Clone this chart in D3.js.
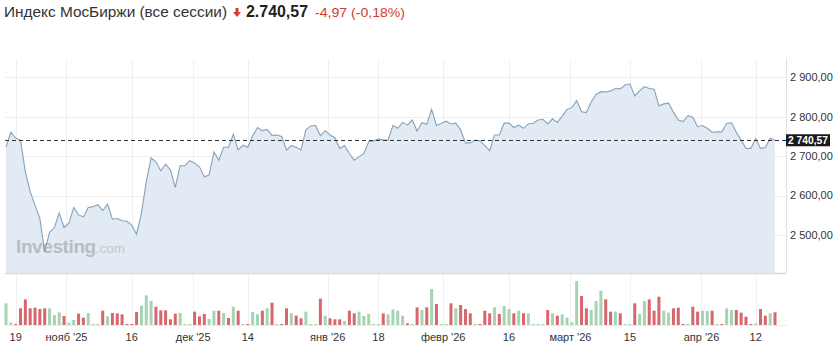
<!DOCTYPE html>
<html>
<head>
<meta charset="utf-8">
<script src="https://cdn.jsdelivr.net/npm/d3@7"></script>
<style>
	body { margin: 0; background: #fff; }
	svg { display: block; font-family: "Liberation Sans", Arial, sans-serif; }
</style>
</head>
<body>
<svg id="chart" width="836" height="344"></svg>
<script>
// closing prices, one per session (weekend sessions included)
var prices = [
	2723, 2761, 2746, 2741, 2661, 2610, 2576, 2542, 2457, 2507,
	2519, 2556, 2519, 2530, 2570, 2551, 2546, 2570, 2572, 2577,
	2562, 2578, 2540, 2542, 2536, 2535, 2525, 2502, 2555, 2635,
	2696, 2686, 2663, 2680, 2665, 2621, 2676, 2676, 2689, 2682,
	2673, 2648, 2652, 2711, 2690, 2723, 2723, 2756, 2716, 2728,
	2723, 2752, 2773, 2765, 2768, 2753, 2754, 2750, 2716, 2727,
	2723, 2716, 2767, 2777, 2778, 2752, 2765, 2754, 2747, 2720,
	2727, 2707, 2690, 2699, 2707, 2737, 2739, 2744, 2741, 2741,
	2778, 2771, 2786, 2779, 2792, 2764, 2785, 2781, 2819, 2778,
	2784, 2789, 2782, 2784, 2767, 2734, 2734, 2741, 2739, 2727,
	2714, 2754, 2754, 2784, 2784, 2773, 2779, 2771, 2782, 2784,
	2792, 2794, 2782, 2795, 2786, 2802, 2819, 2824, 2841, 2813,
	2811, 2838, 2857, 2864, 2863, 2866, 2872, 2871, 2881, 2884,
	2853, 2866, 2877, 2872, 2870, 2828, 2833, 2835, 2812, 2792,
	2788, 2803, 2799, 2775, 2778, 2771, 2761, 2762, 2762, 2784,
	2785, 2761, 2741, 2720, 2720, 2745, 2720, 2722, 2745.54, 2740.57
];

// traded volume per session (relative units, no axis in the picture)
var volumes = [
	65, 7, 3, 50, 77, 50, 52, 48, 50, 50,
	30, 38, 27, 7, 15, 34, 22, 36, 1, 1,
	43, 26, 36, 35, 32, 2, 2, 39, 58, 89,
	72, 55, 44, 44, 17, 34, 36, 2, 3, 40,
	26, 33, 18, 43, 43, 36, 21, 55, 43, 2,
	2, 39, 32, 43, 50, 67, 2, 2, 50, 35,
	28, 20, 40, 2, 2, 79, 28, 20, 17, 17,
	12, 43, 35, 40, 27, 33, 2, 2, 35, 32,
	47, 43, 28, 5, 2, 53, 45, 53, 108, 63,
	2, 2, 65, 50, 60, 48, 35, 2, 2, 43,
	35, 53, 33, 57, 48, 35, 43, 35, 35, 2,
	2, 2, 45, 35, 28, 32, 22, 8, 132, 87,
	50, 45, 72, 103, 77, 40, 40, 35, 3, 3,
	65, 33, 72, 77, 43, 85, 43, 37, 50, 52,
	3, 3, 55, 40, 43, 42, 43, 3, 3, 50,
	45, 45, 37, 25, 3, 5, 48, 28, 35, 38
];

// 1 = green (up) bar, 0 = red (down) bar
var volUp = [
	1, 1, 0, 0, 0, 0, 0, 0, 0, 1,
	1, 1, 0, 1, 1, 0, 0, 1, 1, 1,
	0, 1, 0, 0, 0, 0, 0, 0, 1, 1,
	1, 0, 0, 0, 0, 0, 1, 1, 1, 0,
	0, 0, 1, 1, 0, 1, 0, 1, 0, 1,
	0, 1, 1, 0, 1, 0, 1, 0, 0, 1,
	0, 0, 1, 1, 1, 0, 1, 0, 0, 0,
	1, 0, 0, 1, 1, 1, 1, 1, 0, 1,
	1, 1, 1, 0, 1, 0, 1, 0, 1, 0,
	1, 1, 0, 1, 0, 0, 0, 1, 0, 0,
	0, 1, 0, 1, 1, 0, 1, 0, 1, 1,
	1, 1, 0, 1, 0, 1, 1, 1, 1, 0,
	0, 1, 1, 1, 0, 0, 1, 0, 1, 1,
	0, 1, 1, 0, 0, 0, 1, 1, 0, 0,
	0, 1, 0, 0, 1, 1, 0, 1, 0, 1,
	1, 0, 0, 0, 0, 1, 0, 0, 1, 0
];

// date ticks: session position and label
var dateTickPos = [2, 12.5, 26, 38.7, 50, 66.5, 77, 90.4, 104, 116.7, 129, 143.8, 155];
var dateTickLabels = ["19", "нояб '25", "16", "дек '25", "14", "янв '26", "18", "февр '26", "16", "март '26", "15", "апр '26", "12"];

var priceTicks = [2500, 2600, 2700, 2800, 2900];

var titleText = "Индекс МосБиржи (все сессии)";
var lastPrice = 2740.57;
var lastPriceText = "2.740,57";
var changeText = "-4,97 (-0,18%)";


var svg = d3.select("#chart");

var ruLocale = d3.formatLocale({ decimal: ",", thousands: "\u00a0", grouping: [3], currency: ["", ""] });
var fmtPrice = ruLocale.format(",.2f");

var x = d3.scaleLinear().domain([0, prices.length - 1]).range([6, 775]);
var y = d3.scaleLinear().domain([2403.5, 2949.5]).range([273, 58]);
var yVol = d3.scaleLinear().domain([0, 132]).range([325, 281]);

var plotLeft = 5, plotRight = 786.5;

// grid lines
var grid = svg.append("g").attr("class", "grid");
grid.selectAll("line.h")
	.data(priceTicks)
	.enter().append("line")
	.attr("class", "h")
	.attr("x1", plotLeft).attr("x2", plotRight)
	.attr("y1", function (d) { return Math.round(y(d)) + 0.5; })
	.attr("y2", function (d) { return Math.round(y(d)) + 0.5; })
	.style("stroke", "#eeeeee");

grid.selectAll("line.v")
	.data(dateTickPos)
	.enter().append("line")
	.attr("class", "v")
	.attr("x1", function (d) { return Math.round(x(d)) + 0.5; })
	.attr("x2", function (d) { return Math.round(x(d)) + 0.5; })
	.attr("y1", 60).attr("y2", 328)
	.style("stroke", "#f0f0f0");

// price area + line
var area = d3.area()
	.x(function (d, i) { return x(i); })
	.y0(y.range()[0])
	.y1(function (d) { return y(d); });

var line = d3.line()
	.x(function (d, i) { return x(i); })
	.y(function (d) { return y(d); });

svg.append("path")
	.datum(prices)
	.attr("d", area)
	.style("fill", "#e2ebf4");

// watermark
var wm = svg.append("text")
	.attr("x", 16).attr("y", 253)
	.style("fill", "#b9bdc1");
wm.append("tspan")
	.style("font-size", "19px").style("font-weight", "bold").style("letter-spacing", "-0.4px")
	.text("Investing");
wm.append("tspan")
	.style("font-size", "13.5px").style("fill", "#c4c8cc")
	.text(".com");

svg.append("path")
	.datum(prices)
	.attr("d", line)
	.style("fill", "none")
	.style("stroke", "#86a2bb")
	.style("stroke-width", 1.1);

// panel borders
svg.append("line")
	.attr("x1", plotLeft).attr("x2", plotRight)
	.attr("y1", 273.5).attr("y2", 273.5)
	.style("stroke", "#d6dade").style("stroke-width", 1.5);
svg.append("line")
	.attr("x1", plotRight).attr("x2", plotRight)
	.attr("y1", 58).attr("y2", 273)
	.style("stroke", "#e2e2e2");
svg.append("line")
	.attr("x1", plotLeft).attr("x2", plotRight)
	.attr("y1", 325.5).attr("y2", 325.5)
	.style("stroke", "#ececec");

// last price dashed line
svg.append("line")
	.attr("x1", plotLeft).attr("x2", plotRight)
	.attr("y1", Math.round(y(lastPrice)) + 0.5)
	.attr("y2", Math.round(y(lastPrice)) + 0.5)
	.style("stroke", "#333")
	.style("stroke-dasharray", "4,3");

// volume bars
svg.append("g").selectAll("rect")
	.data(volumes)
	.enter().append("rect")
	.attr("x", function (d, i) { return x(i) - 1.5; })
	.attr("width", 3)
	.attr("y", function (d) { return Math.min(yVol(d), 324); })
	.attr("height", function (d) { return Math.max(yVol(0) - yVol(d), 1); })
	.style("fill", function (d, i) { return volUp[i] ? "#a6d4b3" : "#d7676c"; });

// price axis labels
svg.append("g").selectAll("text")
	.data(priceTicks)
	.enter().append("text")
	.attr("x", 790)
	.attr("y", function (d) { return y(d); })
	.attr("dy", "0.35em")
	.style("font-size", "11px")
	.style("fill", "#333")
	.text(function (d) { return fmtPrice(d); });

// last price tag
var tagY = y(lastPrice);
svg.append("rect")
	.attr("x", 786).attr("y", tagY - 6)
	.attr("width", 44).attr("height", 12)
	.style("fill", "#1a1a1a");
svg.append("text")
	.attr("x", 808).attr("y", tagY)
	.attr("dy", "0.36em")
	.attr("text-anchor", "middle")
	.attr("textLength", 40).attr("lengthAdjust", "spacingAndGlyphs")
	.style("font-size", "11px").style("font-weight", "bold")
	.style("fill", "#fff")
	.text(fmtPrice(lastPrice));

// date axis labels
svg.append("g").selectAll("text")
	.data(dateTickPos)
	.enter().append("text")
	.attr("x", function (d) { return x(d); })
	.attr("y", 340.5)
	.attr("text-anchor", "middle")
	.style("font-size", "11px")
	.style("fill", "#333")
	.text(function (d, i) { return dateTickLabels[i]; });

// header
svg.append("text")
	.attr("x", 4).attr("y", 17)
	.attr("textLength", 223).attr("lengthAdjust", "spacingAndGlyphs")
	.style("font-size", "14.5px").style("fill", "#333")
	.text(titleText);

svg.append("path")
	.attr("d", "M235.5,8 h3 v4 h2.5 l-4,5 l-4,-5 h2.5 z")
	.style("fill", "#d63a2f");

svg.append("text")
	.attr("x", 246).attr("y", 17.3)
	.attr("textLength", 62).attr("lengthAdjust", "spacingAndGlyphs")
	.style("font-size", "16px").style("font-weight", "bold").style("fill", "#222")
	.text(lastPriceText);

svg.append("text")
	.attr("x", 315).attr("y", 16.8)
	.attr("textLength", 90).attr("lengthAdjust", "spacingAndGlyphs")
	.style("font-size", "13px").style("fill", "#cf3a30")
	.text(changeText);
</script>
</body>
</html>
